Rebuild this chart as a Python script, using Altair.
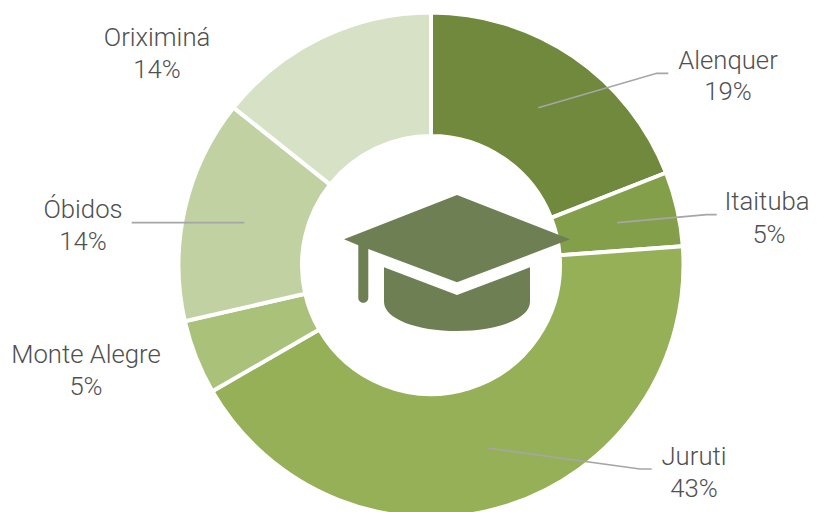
import altair as alt
import pandas as pd

cities = ["Alenquer", "Itaituba", "Juruti", "Monte Alegre", "Óbidos", "Oriximiná"]
counts = [4, 1, 9, 1, 3, 3]
percents = ["19%", "5%", "43%", "5%", "14%", "14%"]
slice_colors = ["#70893C", "#849F4A", "#95B056", "#AAC17A", "#C1D1A2", "#D7E1C6"]

name_x = [728, 767, 694, 86, 83, 157]
pct_x = [728, 769, 694, 86, 83, 157]
name_y = [61, 202, 457, 355, 210, 38]
pct_y = [92, 235, 489, 387, 242, 70]

leader_id = ["a", "a", "a", "i", "i", "i", "j", "j", "j", "o", "o"]
leader_x = [538.3, 656.7, 668.3, 617.3, 706.7, 716.7, 487.3, 640, 651.7, 131.7, 244.3]
leader_y = [107.7, 73.3, 73.3, 222.7, 214.7, 214.7, 448, 469, 469, 222.7, 222.7]

CAP_PATH = (
    "M0,-69 L113,-24.7 L0,18.3 L-88.7,-15 L-88.7,33.7 "
    "C-88.7,40.4 -98.7,40.4 -98.7,33.7 L-98.7,-18.7 L-113,-24.7 Z "
    "M-73,3.3 L0,31 L73,3.3 L73,37.7 C73,55 40,67 0,67 C-40,67 -73,55 -73,37.7 Z"
)

FONT = "Roboto"
TEXT_COLOR = "#505050"

pie = pd.DataFrame({"city": cities, "n": counts, "i": range(6)})
x_scale = alt.Scale(domain=[8, 810], nice=False, zero=False)
y_scale = alt.Scale(domain=[512, 8], nice=False, zero=False)

arcs = alt.Chart(pie).mark_arc(radius=252.5, innerRadius=129, stroke="white", strokeWidth=4).encode(
    theta=alt.Theta("n:Q", stack=True),
    order=alt.Order("i:Q"),
    color=alt.Color("city:N", scale=alt.Scale(domain=cities, range=slice_colors), legend=None),
    x=alt.value(423),
    y=alt.value(257),
)

leaders = alt.Chart(pd.DataFrame({"id": leader_id, "x": leader_x, "y": leader_y, "k": range(len(leader_x))})).mark_line(
    color="#A6A6A6", strokeWidth=1.7
).encode(
    x=alt.X("x:Q", scale=x_scale, axis=None),
    y=alt.Y("y:Q", scale=y_scale, axis=None),
    detail="id:N",
    order="k:Q",
)

labels = pd.DataFrame({
    "t": cities + percents,
    "x": name_x + pct_x,
    "y": name_y + pct_y,
})
texts = alt.Chart(labels).mark_text(
    font=FONT, fontSize=25.7, fontWeight=300, color=TEXT_COLOR, align="center", baseline="middle"
).encode(
    x=alt.X("x:Q", scale=x_scale, axis=None),
    y=alt.Y("y:Q", scale=y_scale, axis=None),
    text="t:N",
)

cap = alt.Chart(pd.DataFrame({"x": [457], "y": [264]})).mark_point(
    shape=CAP_PATH, size=4, filled=True, color="#6F7F54", opacity=1, strokeWidth=0
).encode(
    x=alt.X("x:Q", scale=x_scale, axis=None),
    y=alt.Y("y:Q", scale=y_scale, axis=None),
)

chart = alt.layer(arcs, leaders, cap, texts).resolve_scale(color="independent").properties(
    width=802, height=504, padding=0, autosize=alt.AutoSizeParams(type="none"), background="white"
).configure_view(stroke=None)

chart.save("out.html", embed_options={"renderer": "svg", "actions": False})
